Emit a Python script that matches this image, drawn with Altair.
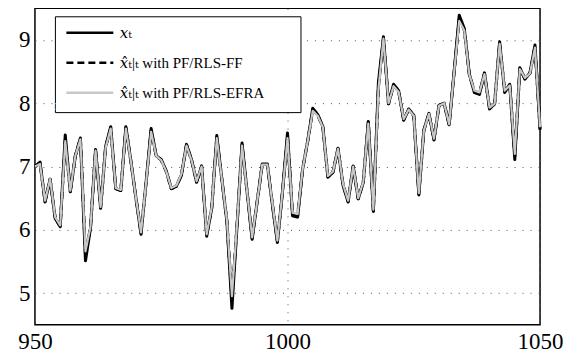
import altair as alt
import pandas as pd

time = list(range(950, 1051))

x_true = [7.00, 7.07, 6.44, 6.80, 6.18, 6.05, 7.50, 6.60, 7.17, 7.45,
          5.51, 6.03, 7.27, 6.34, 7.32, 7.63, 6.65, 6.62, 7.63, 7.08,
          6.50, 5.93, 6.75, 7.60, 7.17, 7.11, 6.93, 6.65, 6.69, 6.86,
          7.35, 7.11, 6.75, 7.01, 5.90, 6.34, 7.49, 6.80, 6.13, 4.76,
          6.05, 7.37, 6.60, 5.85, 6.45, 7.04, 7.04, 6.40, 5.80, 6.60,
          7.53, 6.22, 6.20, 6.96, 7.40, 7.92, 7.82, 7.63, 6.83, 6.91,
          7.29, 6.70, 6.44, 7.01, 6.49, 6.75, 7.71, 6.29, 8.33, 9.05,
          7.99, 8.30, 8.20, 7.73, 7.91, 7.81, 6.55, 7.58, 7.84, 7.42,
          7.97, 8.00, 7.66, 8.51, 9.39, 9.18, 8.46, 8.17, 8.14, 8.48,
          7.91, 7.99, 8.97, 8.17, 8.30, 7.11, 8.56, 8.38, 8.48, 8.92,
          7.58]

x_ff = [7.00, 7.05, 6.45, 6.80, 6.19, 6.06, 7.42, 6.61, 7.17, 7.44,
        5.62, 6.04, 7.26, 6.35, 7.31, 7.61, 6.65, 6.62, 7.61, 7.08,
        6.50, 5.95, 6.75, 7.57, 7.17, 7.10, 6.92, 6.65, 6.69, 6.87,
        7.34, 7.10, 6.76, 7.00, 5.92, 6.35, 7.46, 6.80, 6.14, 4.90,
        6.07, 7.34, 6.60, 5.87, 6.45, 7.03, 7.03, 6.41, 5.82, 6.60,
        7.48, 6.25, 6.23, 6.96, 7.40, 7.90, 7.81, 7.62, 6.84, 6.91,
        7.28, 6.71, 6.45, 7.00, 6.49, 6.75, 7.70, 6.30, 8.25, 9.03,
        7.99, 8.28, 8.19, 7.74, 7.90, 7.80, 6.57, 7.57, 7.83, 7.43,
        7.96, 8.00, 7.66, 8.50, 9.33, 9.16, 8.45, 8.19, 8.16, 8.47,
        7.92, 7.99, 8.95, 8.19, 8.29, 7.16, 8.55, 8.39, 8.47, 8.90,
        7.60]

x_efra = [7.00, 7.04, 6.46, 6.80, 6.20, 6.07, 7.40, 6.62, 7.17, 7.43,
          5.66, 6.05, 7.25, 6.36, 7.30, 7.60, 6.66, 6.63, 7.60, 7.08,
          6.50, 5.96, 6.75, 7.55, 7.17, 7.10, 6.92, 6.66, 6.70, 6.88,
          7.33, 7.10, 6.77, 7.00, 5.93, 6.36, 7.45, 6.80, 6.15, 4.95,
          6.08, 7.33, 6.60, 5.88, 6.45, 7.03, 7.03, 6.42, 5.83, 6.60,
          7.45, 6.27, 6.25, 6.96, 7.40, 7.88, 7.80, 7.62, 6.85, 6.92,
          7.28, 6.72, 6.46, 7.00, 6.50, 6.76, 7.68, 6.32, 8.22, 9.02,
          8.00, 8.27, 8.18, 7.75, 7.90, 7.80, 6.58, 7.57, 7.83, 7.44,
          7.96, 8.00, 7.67, 8.50, 9.30, 9.15, 8.45, 8.20, 8.17, 8.46,
          7.93, 7.99, 8.94, 8.20, 8.28, 7.20, 8.54, 8.40, 8.47, 8.88,
          7.62]

series_labels = ["𝑥ₜ", "𝑥̂ₜ|ₜ  with PF/RLS-FF", "𝑥̂ₜ|ₜ  with PF/RLS-EFRA"]
line_colors = ["#000000", "#000000", "#c8c8c8"]
line_dashes = [[1, 0], [7, 4], [1, 0]]
line_widths = [3.0, 3.0, 2.2]

x_ticks = [950, 1000, 1050]
y_ticks = [5, 6, 7, 8, 9]

rows = []
for lab, vals in zip(series_labels, [x_true, x_ff, x_efra]):
    for t, v in zip(time, vals):
        rows.append({"t": t, "value": v, "series": lab})
df = pd.DataFrame(rows)

FONT = "Liberation Serif, Times New Roman, DejaVu Serif, serif"

# legend box spacer (white on white): fixes the box width and bottom margin
spacer = "MMMMMMMMMMMMMMMMMMMMMMMMMM"

legend = alt.Legend(
    title=spacer, titleColor="white", titleFont=FONT, titleFontSize=10,
    titleOrient="bottom", titlePadding=1, titleLimit=1000,
    orient="none", legendX=20, legendY=8,
    strokeColor="black", fillColor="white", padding=0,
    symbolType="M-0.333,0L2.8,0", symbolSize=900, symbolStrokeWidth=2.5,
    labelFont=FONT, labelFontSize=15, labelColor="black", labelOffset=32,
    rowPadding=5, labelLimit=400,
)

grid_color = "#555555"
x_enc = alt.X("t:Q", scale=alt.Scale(domain=[950, 1050], nice=False, zero=False),
              axis=alt.Axis(values=x_ticks, title=None, grid=True, tickSize=0, labelPadding=6,
                            labelFont=FONT, labelFontSize=23, labelColor="black", domain=False,
                            labelFlush=False,
                            gridDash=[1, 7], gridColor=grid_color, gridWidth=1, format="d"))
y_enc = alt.Y("value:Q", scale=alt.Scale(domain=[4.5, 9.5], nice=False, zero=False),
              axis=alt.Axis(values=y_ticks, title=None, grid=True, tickSize=0, labelPadding=5,
                            labelFont=FONT, labelFontSize=23, labelColor="black", domain=False,
                            labelFlush=False,
                            gridDash=[1, 7], gridColor=grid_color, gridWidth=1, format="d"))
color_enc = alt.Color("series:N", scale=alt.Scale(domain=series_labels, range=line_colors), legend=legend)
dash_enc = alt.StrokeDash("series:N", scale=alt.Scale(domain=series_labels, range=line_dashes), legend=legend)

layers = []
for lab, w in zip(series_labels, line_widths):
    layers.append(
        alt.Chart(df).transform_filter(alt.datum.series == lab)
        .mark_line(strokeWidth=w, strokeJoin="round")
        .encode(x=x_enc, y=y_enc, color=color_enc, strokeDash=dash_enc)
    )

chart = alt.layer(*layers).properties(
    width=506, height=317,
    padding={"left": 9, "top": 0, "right": 5, "bottom": 0},
    background="white",
).configure_view(stroke="black", strokeWidth=1.5)

chart.save("out.html", embed_options={"renderer": "svg", "actions": False})
